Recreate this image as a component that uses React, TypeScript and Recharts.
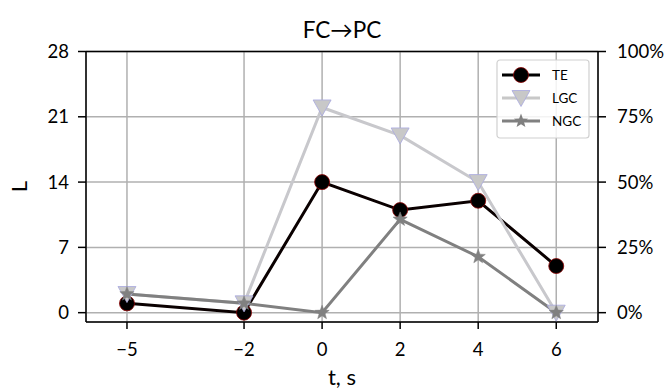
import React from "react";
import { LineChart, Line, XAxis, YAxis, CartesianGrid, ReferenceLine } from "recharts";

const tValues = [-5, -2, 0, 2, 4, 6];
const teValues = [1, 0, 14, 11, 12, 5];
const lgcValues = [2, 1, 22, 19, 14, 0];
const ngcValues = [2, 1, 0, 10, 6, 0];
const leftTicks = [0, 7, 14, 21, 28];
const rightTicks = [0, 25, 50, 75, 100];
const seriesNames = ["TE", "LGC", "NGC"];
const title = "FC→PC";
const xLabel = "t, s";
const yLabel = "L";

const data = tValues.map((t, i) => ({ t, TE: teValues[i], LGC: lgcValues[i], NGC: ngcValues[i] }));

const FONT = "Lato, 'DejaVu Sans', sans-serif";

const starPath = (cx: number, cy: number, R: number) => {
  const r = R * 0.42;
  let d = "";
  for (let k = 0; k < 10; k++) {
    const a = -Math.PI / 2 + (k * Math.PI) / 5;
    const rad = k % 2 === 0 ? R : r;
    d += (k === 0 ? "M" : "L") + (cx + rad * Math.cos(a)).toFixed(2) + "," + (cy + rad * Math.sin(a)).toFixed(2);
  }
  return d + "Z";
};
const triPath = (cx: number, cy: number) => `M${cx - 9},${cy - 7.5}L${cx + 9},${cy - 7.5}L${cx},${cy + 8.5}Z`;

const CircleDot = (p: any) => (
  <circle key={p.index} cx={p.cx} cy={p.cy} r={7.5} fill="#000" stroke="#8b0000" strokeWidth={0.8} />
);
const TriDot = (p: any) => (
  <path key={p.index} d={triPath(p.cx, p.cy)} fill="#c8c8c8" stroke="#a8a8e0" strokeWidth={0.8} />
);
const StarDot = (p: any) => <path key={p.index} d={starPath(p.cx, p.cy, 7.5)} fill="#808080" stroke="#808080" strokeWidth={0.5} />;

const Overlay = () => {
  const rows = [
    { name: seriesNames[0], color: "#000", mk: (x: number, y: number) => <circle cx={x} cy={y} r={7.5} fill="#000" stroke="#8b0000" strokeWidth={0.8} /> },
    { name: seriesNames[1], color: "#c8c8c8", mk: (x: number, y: number) => <path d={triPath(x, y)} fill="#c8c8c8" stroke="#a8a8e0" strokeWidth={0.8} /> },
    { name: seriesNames[2], color: "#808080", mk: (x: number, y: number) => <path d={starPath(x, y, 7.5)} fill="#808080" /> },
  ];
  return (
    <svg width={672} height={391} style={{ position: "absolute", left: 0, top: 0, pointerEvents: "none" }}>
      <text x={334} y={29.5} textAnchor="middle" fontSize={22.5} fontFamily={FONT} fill="#000">{title}</text>
      <text x={334} y={377} textAnchor="middle" fontSize={22} fontFamily={FONT} fill="#000">{xLabel}</text>
      <text transform="translate(19,178.5) rotate(-90)" textAnchor="middle" fontSize={22} fontFamily={FONT} fill="#000">{yLabel}</text>
      <g transform="translate(488,51)">
        <rect x={1} y={1} width={92} height={78} rx={3} fill="rgba(255,255,255,0.85)" stroke="#d0d0d0" strokeWidth={1.2} />
        {rows.map((r, i) => {
          const y = 16 + i * 23;
          return (
            <g key={r.name}>
              <line x1={6} x2={44} y1={y} y2={y} stroke={r.color} strokeWidth={3} />
              {r.mk(25, y)}
              <text x={56} y={y + 5} fontSize={13.5} fontFamily={FONT} fill="#000">{r.name}</text>
            </g>
          );
        })}
      </g>
    </svg>
  );
};

const fmtX = (v: number) => (v < 0 ? "\u2212" + Math.abs(v) : String(v));
const tickStyle = { fontSize: 18.5, fill: "#000", fontFamily: FONT };

export default function App() {
  return (
    <div style={{ position: "relative", width: 672, height: 391, fontFamily: FONT }}>
      <LineChart width={672} height={391} data={data} margin={{ top: 43.5, right: 0, bottom: 27, left: 0 }}>
        <CartesianGrid yAxisId="left" stroke="#b0b0b0" strokeWidth={1.5} />
        <XAxis
          type="number"
          dataKey="t"
          domain={[-6.05, 7.07]}
          ticks={tValues}
          allowDataOverflow
          tickFormatter={fmtX}
          tick={tickStyle}
          tickSize={7}
          tickMargin={14}
          height={50}
          axisLine={{ stroke: "#000", strokeWidth: 1.5 }}
          tickLine={{ stroke: "#000", strokeWidth: 1.5 }}
        />
        <YAxis
          yAxisId="left"
          domain={[-1, 28]}
          ticks={leftTicks}
          allowDataOverflow
          width={78}
          tick={tickStyle}
          tickSize={8}
          tickMargin={9}
          axisLine={{ stroke: "#000", strokeWidth: 1.5 }}
          tickLine={{ stroke: "#000", strokeWidth: 1.5 }}
        />
        <YAxis
          yAxisId="right"
          orientation="right"
          domain={[-100 / 28, 100]}
          ticks={rightTicks}
          allowDataOverflow
          width={82}
          tickFormatter={(v: number) => v + "%"}
          tick={tickStyle}
          tickSize={8}
          tickMargin={11}
          axisLine={{ stroke: "#000", strokeWidth: 1.5 }}
          tickLine={{ stroke: "#000", strokeWidth: 1.5 }}
        />
        <ReferenceLine yAxisId="left" y={28} stroke="#000" strokeWidth={1.5} />
        <Line yAxisId="left" dataKey="TE" stroke="#0a0000" strokeWidth={3} dot={CircleDot} isAnimationActive={false} />
        <Line yAxisId="left" dataKey="LGC" stroke="#c8c8cc" strokeWidth={3} dot={TriDot} isAnimationActive={false} />
        <Line yAxisId="left" dataKey="NGC" stroke="#808080" strokeWidth={3} dot={StarDot} isAnimationActive={false} />
      </LineChart>
      <Overlay />
    </div>
  );
}
